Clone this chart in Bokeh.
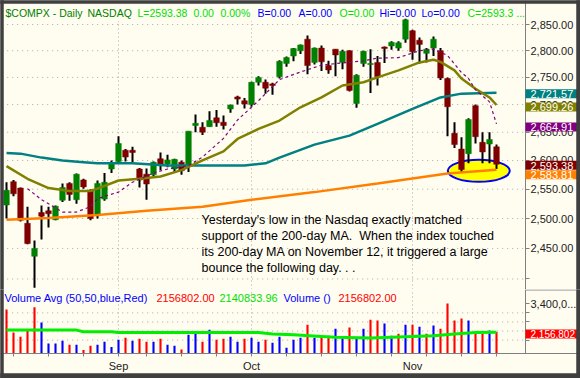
from datetime import date
import numpy as np
from bokeh.plotting import figure
from bokeh.layouts import column
from bokeh.models import Range1d, FixedTicker, Label
from bokeh.embed import file_html
from bokeh.resources import INLINE

# ---------------- data ----------------
dates = ["2007-08-10", "2007-08-13", "2007-08-14", "2007-08-15", "2007-08-16", "2007-08-17",
         "2007-08-20", "2007-08-21", "2007-08-22", "2007-08-23", "2007-08-24", "2007-08-27",
         "2007-08-28", "2007-08-29", "2007-08-30", "2007-08-31",
         "2007-09-04", "2007-09-05", "2007-09-06", "2007-09-07", "2007-09-10", "2007-09-11",
         "2007-09-12", "2007-09-13", "2007-09-14", "2007-09-17", "2007-09-18", "2007-09-19",
         "2007-09-20", "2007-09-21", "2007-09-24", "2007-09-25", "2007-09-26", "2007-09-27",
         "2007-09-28",
         "2007-10-01", "2007-10-02", "2007-10-03", "2007-10-04", "2007-10-05", "2007-10-08",
         "2007-10-09", "2007-10-10", "2007-10-11", "2007-10-12", "2007-10-15", "2007-10-16",
         "2007-10-17", "2007-10-18", "2007-10-19", "2007-10-22", "2007-10-23", "2007-10-24",
         "2007-10-25", "2007-10-26", "2007-10-29", "2007-10-30", "2007-10-31",
         "2007-11-01", "2007-11-02", "2007-11-05", "2007-11-06", "2007-11-07", "2007-11-08",
         "2007-11-09", "2007-11-12", "2007-11-13", "2007-11-14", "2007-11-15", "2007-11-16",
         "2007-11-19"]

opens = [2523, 2563, 2552, 2492, 2437, 2510, 2513, 2498, 2531, 2560, 2532, 2566, 2548, 2505, 2533, 2585,
         2598, 2618, 2618, 2585, 2576, 2575, 2603, 2594, 2585, 2597, 2590, 2662, 2659, 2660, 2676, 2668,
         2692, 2714, 2707,
         2700, 2741, 2741, 2738, 2751, 2776, 2790, 2800, 2822, 2778, 2805, 2772, 2803, 2778, 2800, 2702,
         2776, 2774, 2778, 2807, 2809, 2805, 2822,
         2838, 2820, 2795, 2805, 2800, 2748, 2648, 2620, 2612, 2698, 2632, 2629, 2624]
highs = [2562, 2566, 2553, 2520, 2463, 2522, 2520, 2522, 2560, 2562, 2577, 2568, 2550, 2565, 2578, 2600,
         2643, 2620, 2624, 2587, 2586, 2598, 2614, 2610, 2603, 2600, 2652, 2682, 2668, 2688, 2690, 2680,
         2700, 2716, 2712,
         2742, 2752, 2746, 2740, 2782, 2789, 2805, 2812, 2829, 2806, 2810, 2781, 2803, 2802, 2801, 2756,
         2800, 2803, 2790, 2808, 2818, 2818, 2861,
         2840, 2825, 2805, 2827, 2805, 2750, 2668, 2641, 2675, 2700, 2650, 2650, 2628]
lows = [2500, 2538, 2495, 2457, 2386, 2465, 2485, 2497, 2528, 2530, 2525, 2551, 2497, 2500, 2530, 2578,
        2596, 2598, 2595, 2553, 2532, 2573, 2583, 2588, 2578, 2575, 2580, 2650, 2645, 2660, 2660, 2655,
        2685, 2700, 2693,
        2696, 2735, 2720, 2718, 2748, 2770, 2780, 2794, 2756, 2774, 2762, 2757, 2752, 2765, 2724, 2694,
        2770, 2721, 2735, 2777, 2802, 2800, 2815,
        2783, 2776, 2778, 2790, 2745, 2643, 2622, 2580, 2595, 2630, 2595, 2595, 2585]
closes = [2548, 2542, 2497, 2458, 2450, 2504, 2508, 2521, 2553, 2541, 2576, 2554, 2500, 2560, 2562, 2596,
          2630, 2606, 2614, 2566, 2559, 2597, 2592, 2601, 2602, 2582, 2652, 2666, 2650, 2671, 2667, 2662,
          2699, 2710, 2701,
          2741, 2750, 2730, 2735, 2780, 2787, 2804, 2811, 2772, 2805, 2779, 2764, 2792, 2799, 2726, 2754,
          2799, 2776, 2751, 2804, 2816, 2815, 2859,
          2798, 2812, 2803, 2822, 2749, 2696, 2628, 2584, 2673, 2642, 2615, 2637, 2593.38]
volumes = [3147000, 2140000, 1950000, 2260000, 3250000, 2570000, 1650000, 1650000, 1770000, 1590000,
           1590000, 1360000, 1550000, 1590000, 1730000, 1500000, 1810000, 1900000, 1770000, 1860000,
           1730000, 1730000, 1860000, 1590000, 1550000, 1380000, 2040000, 2170000, 1730000, 2260000,
           1810000, 1860000, 1950000, 1730000, 1860000, 1900000, 1730000, 1810000, 1680000, 1950000,
           1460000, 1810000, 1900000, 2480000, 1900000, 1950000, 1990000, 2300000, 1950000, 2350000,
           1900000, 2300000, 2700000, 2660000, 2530000, 1990000, 2080000, 2480000, 2480000, 2390000,
           2080000, 2440000, 2300000, 3410000, 2660000, 2750000, 2660000, 2130000, 2080000, 2220000,
           2156802]

# moving averages (bar index, value)
ma200_idx = [0, 6, 13, 20, 28, 35, 44, 53, 63, 70]
ma200_val = [2498, 2501, 2506, 2513, 2520, 2532, 2545, 2560, 2577, 2583.81]
ma50_idx = [0, 2, 5, 8, 11, 13, 18, 23, 28, 34, 37, 39, 44, 49, 53, 58, 62, 65, 70]
ma50_val = [2613, 2612, 2605, 2600, 2597, 2595, 2595, 2591, 2591, 2591, 2595, 2605, 2628, 2644, 2665,
            2692, 2713, 2720, 2721.57]
ma20_idx = [0, 3, 6, 9, 12, 13, 16, 19, 22, 25, 28, 31, 33, 36, 39, 42, 45, 48, 51, 53, 56, 59, 61, 62,
            64, 65, 67, 69, 70]
ma20_val = [2590, 2568, 2552, 2547, 2547, 2551, 2565, 2568, 2572, 2583, 2600, 2616, 2638, 2656, 2671,
            2695, 2713, 2735, 2741, 2750, 2763, 2778, 2783, 2779, 2763, 2748, 2729, 2713, 2699.26]
ma10_idx = [3, 5, 8, 10, 12, 13, 16, 18, 21, 23, 26, 28, 31, 33, 36, 39, 42, 45, 48, 51, 53, 56, 59, 61,
            63, 65, 66, 67, 69, 70]
ma10_val = [2551, 2532, 2511, 2511, 2520, 2534, 2545, 2562, 2578, 2585, 2591, 2606, 2639, 2672, 2707,
            2746, 2760, 2773, 2777, 2781, 2786, 2787, 2800, 2803, 2791, 2759, 2748, 2727, 2705, 2664.91]
vavg_idx = [0, 10, 11, 15, 16, 36, 38, 41, 45, 47, 52, 57, 61, 64, 67, 70]
vavg_val = [2240000, 2240000, 2170000, 2170000, 2130000, 2130000, 2070000, 2040000, 1960000, 1920000,
            1890000, 1950000, 1990000, 2070000, 2130000, 2140833.96]

price_ticks = [2400, 2450, 2500, 2550, 2600, 2650, 2700, 2750, 2800, 2850]
vol_ticks = [1800000, 2200000, 2600000, 3000000, 3400000]

# ---------------- styling / geometry ----------------
BG = "#FFFCF0"
FRAME = "#3F3F3F"
FONT = "Liberation Sans"
GRID = "#A8A8A8"
AXIS = "#808080"
LIME = "#00E000"
NB = "\u00a0"

N = len(dates)
idx = np.arange(N)
o = np.array(opens, float); h = np.array(highs, float)
l = np.array(lows, float); c = np.array(closes, float)
dts = [date.fromisoformat(d) for d in dates]
month_idx = [i for i in range(N) if i > 0 and dts[i].month != dts[i - 1].month]
week_idx = [i for i in range(N) if i > 0 and dts[i].isocalendar()[1] != dts[i - 1].isocalendar()[1]]
month_names = {i: dts[i].strftime("%b") for i in month_idx}

STEP = 7.0                        # px per bar, bar 0 at page x = 6
X0, X1 = -6 / STEP, 574 / STEP    # page x 0 .. 580
XL, XR = -3 / STEP, 570 / STEP    # inner edges of the dark frame (page x 3, 576)
XAX = 519 / STEP                  # price axis line (page x 525)
xr = Range1d(X0, X1)

P_LO, P_HI = 2383.0, 2896.6       # page y 289 .. 0 (log scale)
P_TOP = 2890.7                    # page y 3
V_LO, V_HI = 107000.0, 4030000.0  # page y 378 .. 289
V_BASE = 1209000.0                # page y 353
V_BOT = 327600.0                  # page y 373


def common(fig):
    fig.yaxis.axis_line_color = AXIS
    fig.yaxis.major_tick_line_color = AXIS
    fig.yaxis.major_tick_out = 4
    fig.yaxis.major_tick_in = 0
    fig.yaxis.minor_tick_line_color = None
    fig.yaxis.major_label_standoff = 1
    fig.yaxis.major_label_text_font = FONT
    fig.yaxis.major_label_text_font_size = "11px"
    fig.yaxis.major_label_text_color = "#222222"
    fig.yaxis.fixed_location = XAX
    fig.grid.visible = False


def bands(fig, ylo, yhi, top=None, bottom=None):
    L, R, B, T = [X0, XR], [XL, X1], [ylo, ylo], [yhi, yhi]
    if top is not None:
        L.append(X0); R.append(X1); B.append(top); T.append(yhi)
    if bottom is not None:
        L.append(X0); R.append(X1); B.append(ylo); T.append(bottom)
    fig.quad(left=L, right=R, bottom=B, top=T, fill_color=FRAME, fill_alpha=1.0, line_color=FRAME,
             line_width=0.5, level="overlay")


p = figure(frame_width=580, frame_height=289, y_axis_type="log", y_axis_location="right",
           x_axis_location=None, toolbar_location=None, output_backend="svg",
           x_range=xr, y_range=Range1d(P_LO, P_HI),
           min_border_left=0, min_border_right=0, min_border_top=0, min_border_bottom=0,
           background_fill_color=BG, border_fill_color=FRAME, outline_line_color=None)
common(p)
p.yaxis.ticker = FixedTicker(ticks=price_ticks)
p.yaxis.major_label_overrides = {t: ("" if t == 2400 else f"{t:,.2f}") for t in price_ticks}

p.segment(x0=[0.1] * len(price_ticks), y0=price_ticks, x1=[XAX] * len(price_ticks), y1=price_ticks,
          line_color=GRID, line_dash="1 4", line_width=1)
p.segment(x0=month_idx, y0=[P_LO] * len(month_idx), x1=month_idx, y1=[2857] * len(month_idx),
          line_color=GRID, line_dash="1 3", line_width=1)

p.ellipse(x=[67.47], y=[2581.8], width=62, height=22, width_units="screen", height_units="screen",
          fill_color="#FFFF00", line_color="#0000FF", line_width=2)

p.segment(idx, h, idx, l, line_color="black", line_width=2)
up = c >= o
p.vbar(x=idx[up], bottom=o[up], top=c[up], width=0.8, fill_color="#008000", line_color="#008000",
       line_width=0.5)
p.vbar(x=idx[~up], bottom=c[~up], top=o[~up], width=0.8, fill_color="#800000", line_color="#800000",
       line_width=0.5)

p.line(ma200_idx, ma200_val, line_color="#FF8000", line_width=2.5)
p.line(ma50_idx, ma50_val, line_color="#008080", line_width=2.5)
p.line(ma20_idx, ma20_val, line_color="#808000", line_width=2.5)
p.line(ma10_idx, ma10_val, line_color="#800080", line_width=1.2, line_dash="3 3")


def lab(fig, text, px, py, bottom, color, size="11px"):
    fig.add_layout(Label(x=px, y=bottom - py, x_units="screen", y_units="screen", text=text,
                         text_color=color, text_font=FONT, text_font_size=size,
                         text_baseline="middle"))


last = closes[-1]
title_parts = [("$COMPX - Daily", 5, "#008000"), ("NASDAQ", 87, "#008000"), (f"L={last:.2f}", 137, LIME),
               ("0.00", 193, LIME), ("0.00%", 220, LIME), ("B=0.00", 257, "#0000FF"),
               ("A=0.00", 298, "#0000FF"), ("O=0.00", 339, LIME), ("Hi=0.00", 379, "#0000FF"),
               ("Lo=0.00", 421, "#0000FF"), (f"C={last:.2f}"[:8] + " ...", 467, LIME)]
for t, x, col in title_parts:
    lab(p, t, x, 12, 289, col, size="10.5px")

note = ["Yesterday's low in the Nasdaq exactly matched",
        f"support of the 200-day MA. {NB}When the index touched",
        "its 200-day MA on November 12, it triggered a large",
        "bounce the following day. . ."]
for k, t in enumerate(note):
    lab(p, t, 201, 219 + 16 * k, 289, "black", size="12.5px")


def axis_box(fig, text, yval, color, yoff=0, size="11px", pad_r=8):
    fig.add_layout(Label(x=XAX, y=yval, x_units="data", y_units="data", text=text,
                         text_color="white", text_font=FONT, text_font_size=size,
                         text_baseline="middle", y_offset=yoff,
                         background_fill_color=color, background_fill_alpha=1.0,
                         padding=dict(left=5, right=pad_r, top=1, bottom=0)))


axis_box(p, f"{ma200_val[-1]:,.2f}", ma200_val[-1], "#FF8000", -5)
axis_box(p, f"{last:,.2f}", last, "#800000", -1)
axis_box(p, f"{ma50_val[-1]:,.2f}", ma50_val[-1], "#008080", -1)
axis_box(p, f"{ma20_val[-1]:,.2f}", ma20_val[-1], "#808000", -2)
axis_box(p, f"{ma10_val[-1]:,.2f}", ma10_val[-1], "#800080", -3)
bands(p, P_LO, P_HI, top=P_TOP)

pv = figure(frame_width=580, frame_height=89, y_axis_location="right", toolbar_location=None,
            output_backend="svg", x_range=xr, y_range=Range1d(V_LO, V_HI),
            min_border_left=0, min_border_right=0, min_border_top=0, min_border_bottom=0,
            background_fill_color=BG, border_fill_color=FRAME, outline_line_color=None)
common(pv)
pv.yaxis.ticker = FixedTicker(ticks=vol_ticks)
pv.yaxis.major_label_overrides = {t: ("3,400,0..." if t == 3400000 else "") for t in vol_ticks}
pv.yaxis.bounds = (V_BASE, V_HI)

pv.segment(x0=[XAX], y0=[V_HI - 20000], x1=[XR], y1=[V_HI - 20000], line_color=AXIS, line_width=1)
pv.segment(x0=[0.1] * 4, y0=vol_ticks[:-1], x1=[XAX] * 4, y1=vol_ticks[:-1],
           line_color=GRID, line_dash="1 4", line_width=1)
pv.segment(x0=month_idx, y0=[V_BASE] * len(month_idx), x1=month_idx, y1=[V_HI] * len(month_idx),
           line_color=GRID, line_dash="1 3", line_width=1)

v = np.array(volumes, float)
prev = np.r_[np.inf, c[:-1]]
vup = c > prev
pv.vbar(x=idx[vup], bottom=V_BASE, top=v[vup], width=0.3, fill_color="#0000FF", line_color=None)
pv.vbar(x=idx[~vup], bottom=V_BASE, top=v[~vup], width=0.3, fill_color="#FF0000", line_color=None)
pv.line(vavg_idx, vavg_val, line_color="#00EE00", line_width=3)

pv.xaxis.fixed_location = V_BASE
pv.xaxis.ticker = FixedTicker(ticks=month_idx, minor_ticks=week_idx)
pv.xaxis.major_label_overrides = month_names
pv.xaxis.axis_line_color = AXIS
pv.xaxis.major_tick_out = 0
pv.xaxis.major_tick_in = 0
pv.xaxis.minor_tick_out = 3
pv.xaxis.minor_tick_in = 0
pv.xaxis.minor_tick_line_color = AXIS
pv.xaxis.major_label_standoff = 4
pv.xaxis.major_label_text_font = FONT
pv.xaxis.major_label_text_font_size = "11px"
pv.xaxis.major_label_text_color = "#222222"

vol_parts = [("Volume Avg (50,50,blue,Red)", 4, "#0000FF"), (f"{volumes[-1]:.2f}", 156, "#FF0000"),
             (f"{vavg_val[-1]:.2f}", 219, LIME), ("Volume ()", 283, "#0000FF"),
             (f"{volumes[-1]:.2f}", 338, "#FF0000")]
for t, x, col in vol_parts:
    lab(pv, t, x, 297, 378, col)

pv.segment(x0=[XAX], y0=[vavg_val[-1] - 200000], x1=[XR], y1=[vavg_val[-1] - 200000],
           line_color="#00EE00", line_width=2)
axis_box(pv, f"{volumes[-1]:,}", volumes[-1], "#FF0000", -2, "10px", pad_r=6)
bands(pv, V_LO, V_HI, bottom=V_BOT)

layout = column(p, pv)
open("out.html", "w").write(file_html(layout, INLINE))
